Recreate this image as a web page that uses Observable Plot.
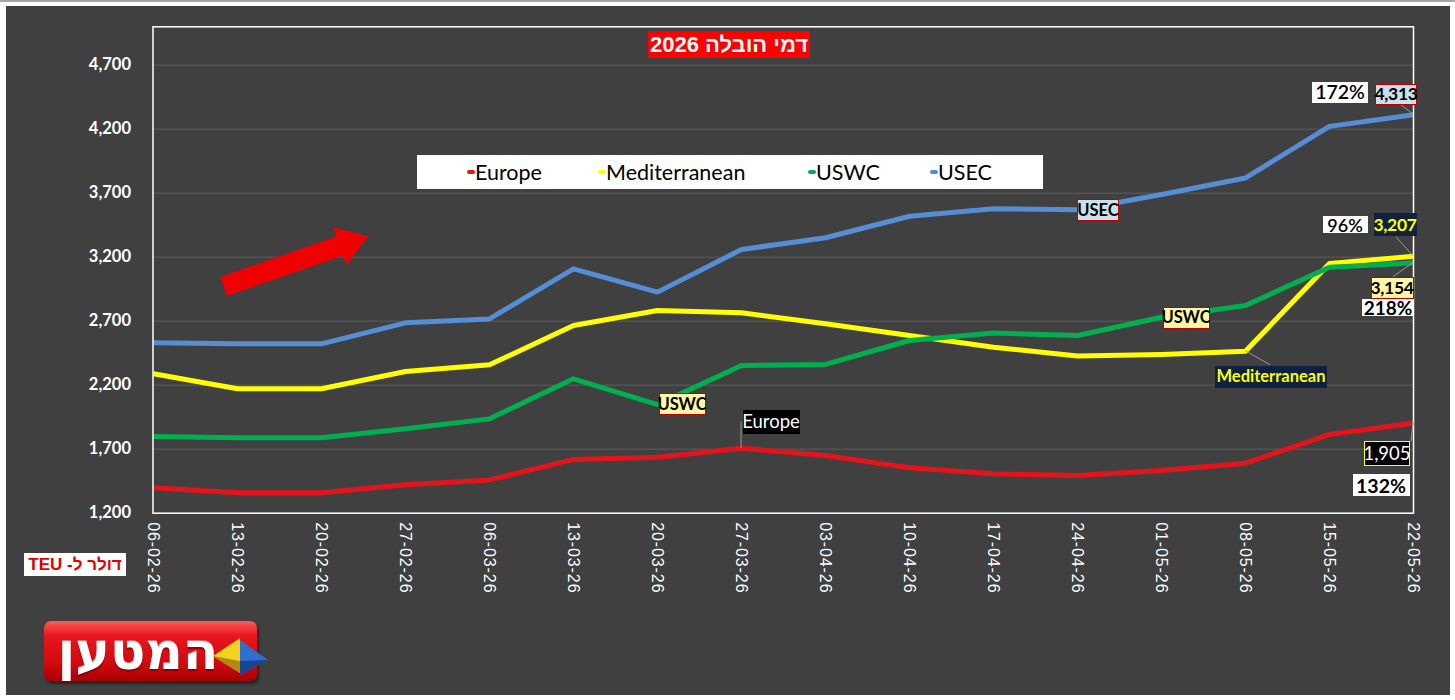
<!DOCTYPE html>
<html>
<head>
<meta charset="utf-8">
<script src="https://cdn.jsdelivr.net/npm/d3@7"></script>
<script src="https://cdn.jsdelivr.net/npm/@observablehq/plot@0.6"></script>
<style>
  body { margin: 0; background: #fff; }
  #wrap { position: relative; width: 1455px; height: 700px; overflow: hidden; background: #fff; }
  #topline { position: absolute; left: 0; top: 0; width: 1455px; height: 2px; background: #a6a6a6; }
  #panel { position: absolute; left: 6px; top: 6px; width: 1444px; height: 689px; background: #404040; }
  #chart { position: absolute; left: 0; top: 0; }
  #chart svg { display: block; }
  g[aria-label="x-axis tick label"] text { letter-spacing: 0.9px; }
  .box { position: absolute; display: flex; align-items: center; justify-content: center; box-sizing: border-box; white-space: nowrap; font-family: Lato, sans-serif; line-height: 1; }
  #title { position: absolute; left: 648px; top: 31px; width: 162px; height: 27px; background: #ff0000; color: #fff; font: bold 22px "Liberation Sans", Arial, sans-serif; direction: rtl; display: flex; align-items: center; justify-content: center; }
  #legend { position: absolute; left: 417px; top: 155px; width: 626px; height: 34px; background: #fff; }
  .litem { position: absolute; top: 0; height: 34px; display: flex; align-items: center; font: 21.5px Lato, sans-serif; color: #000; }
  .lmark { width: 8px; height: 4px; border-radius: 2px; margin-right: 0px; }
  #unit { position: absolute; left: 24px; top: 553px; width: 102px; height: 23px; background: #fff; color: #e00000; font: bold 17px "Liberation Sans", Arial, sans-serif; direction: rtl; display: flex; align-items: center; justify-content: center; white-space: nowrap; }
  #logo { position: absolute; left: 44px; top: 621px; width: 213px; height: 60px; border-radius: 7px;
          background: linear-gradient(180deg, #ff5a5a 0%, #e8161c 25%, #d10a10 70%, #a80000 100%);
          box-shadow: 2px 3px 3px rgba(0,0,0,0.45); }
  #logotext { position: absolute; left: 4px; top: 0; width: 180px; height: 60px; display: flex; align-items: center; justify-content: center;
              color: #fff; font: bold 52px "DejaVu Sans", sans-serif; direction: rtl; letter-spacing: 0px;
              text-shadow: 0 2px 1px rgba(120,0,0,0.8), 0 -1px 0 rgba(255,255,255,0.4); }
  #logosvg { position: absolute; left: 0; top: 0; overflow: visible; }
</style>
</head>
<body>
<div id="wrap">
  <div id="topline"></div>
  <div id="panel"></div>
  <div id="chart"></div>
</div>
<script>
// ---------- data ----------
const dates = ["06-02-26","13-02-26","20-02-26","27-02-26","06-03-26","13-03-26","20-03-26","27-03-26",
               "03-04-26","10-04-26","17-04-26","24-04-26","01-05-26","08-05-26","15-05-26","22-05-26"];
const europe        = [1398,1360,1360,1422,1460,1620,1637,1708,1651,1555,1508,1495,1534,1591,1815,1905];
const mediterranean = [2289,2172,2172,2307,2359,2666,2784,2766,2680,2588,2497,2428,2440,2466,3150,3207];
const uswc          = [1799,1789,1789,1859,1937,2250,2049,2354,2362,2549,2607,2588,2731,2823,3121,3154];
const usec          = [2531,2523,2523,2687,2718,3109,2927,3260,3352,3520,3578,3570,3690,3819,4222,4313];
const seriesNames   = ["Europe","Mediterranean","USWC","USEC"];
const endPercents   = ["132%","96%","218%","172%"];
const yTicks        = [1200,1700,2200,2700,3200,3700,4200,4700];
const titleText     = "דמי הובלה 2026";
const unitText      = "דולר ל- TEU";
const logoText      = "המטען";

// ---------- styling ----------
const seriesColors = ["#e3141b","#ffff00","#00b050","#558ed5"];
const seriesValues = [europe, mediterranean, uswc, usec];

const rows = seriesNames.flatMap((s, k) => dates.map((d, i) => ({series: s, date: d, value: seriesValues[k][i]})));

const W = 1455, H = 700;
const plot = Plot.plot({
  width: W, height: H,
  marginLeft: 152.5, marginRight: 42, marginTop: 26.3, marginBottom: 187.3,
  style: {background: "transparent", color: "white", fontFamily: "'Liberation Sans', Arial, sans-serif", overflow: "visible"},
  x: {type: "point", domain: dates, padding: 0},
  y: {domain: [1200, 5000]},
  color: {domain: seriesNames, range: seriesColors},
  marks: [
    Plot.gridY(yTicks, {stroke: "#5e5e5e", strokeOpacity: 1, strokeWidth: 1}),
    Plot.axisY(yTicks, {tickSize: 0, tickPadding: 22, tickFormat: d3.format(","), fontSize: 16.5, fontWeight: "bold", fontFamily: "Lato, sans-serif", fill: "white", label: null}),
    Plot.axisX({tickSize: 0, tickPadding: 9, tickRotate: 90, fontSize: 16, fill: "white", label: null}),
    Plot.lineY(rows, {x: "date", y: "value", z: "series", stroke: "series", strokeWidth: 5, strokeLinejoin: "round", strokeLinecap: "butt"}),
    Plot.frame({stroke: "white", strokeWidth: 1.5})
  ]
});
document.getElementById("chart").appendChild(plot);

const sx = plot.scale("x"), sy = plot.scale("y");
const px = i => sx.apply(dates[i]);
const py = v => sy.apply(v);
const wrap = document.getElementById("wrap");
const svg = d3.select(plot);

// ---------- red trend arrow (fractional date index, value) ----------
const arrowFrom = {i: 0.84, v: 2968};
const arrowTo   = {i: 2.56, v: 3360};
{
  const step = px(1) - px(0);
  const x0 = px(0) + arrowFrom.i * step, y0 = py(arrowFrom.v);
  const x1 = px(0) + arrowTo.i * step,   y1 = py(arrowTo.v);
  const L = Math.hypot(x1 - x0, y1 - y0);
  const ux = (x1 - x0) / L, uy = (y1 - y0) / L;
  const nx = -uy, ny = ux;
  const sw = 10, hw = 20, hl = 30;
  const bx = x1 - ux * hl, by = y1 - uy * hl;
  const pts = [
    [x0 + nx*sw, y0 + ny*sw], [bx + nx*sw, by + ny*sw], [bx + nx*hw, by + ny*hw], [x1, y1],
    [bx - nx*hw, by - ny*hw], [bx - nx*sw, by - ny*sw], [x0 - nx*sw, y0 - ny*sw]
  ];
  svg.append("polygon").attr("points", pts.map(p => p.join(",")).join(" ")).attr("fill", "#f00000");
}

// ---------- leader lines ----------
function leader(x1, y1, x2, y2) {
  svg.append("line").attr("x1", x1).attr("y1", y1).attr("x2", x2).attr("y2", y2)
     .attr("stroke", "#9a9a9a").attr("stroke-width", 1);
}
const last = dates.length - 1;
leader(px(last), py(usec[last]), px(last) - 14, py(usec[last]) - 11);
leader(px(last), py(mediterranean[last]), px(last) - 17, py(mediterranean[last]) - 19);
leader(px(last), py(uswc[last]), px(last) - 20, py(uswc[last]) + 14);
leader(px(last), py(europe[last]), px(last) - 2, py(europe[last]) + 19);
leader(px(13), py(mediterranean[13]), px(13) + 25, py(mediterranean[13]) + 14);
leader(px(7), py(europe[7]), px(7), py(europe[7]) - 26);

// ---------- callout boxes ----------
function box(text, cx, cy, w, h, style) {
  const d = document.createElement("div");
  d.className = "box";
  d.textContent = text;
  Object.assign(d.style, {left: (cx - w/2) + "px", top: (cy - h/2) + "px", width: w + "px", height: h + "px"}, style);
  wrap.appendChild(d);
}
const stBlue   = {background: "#c9e1ec", border: "1.5px solid #c00000", color: "#000", fontWeight: "bold", fontSize: "16.5px"};
const stYellow = {background: "#fff7a1", border: "1.5px solid #c00000", color: "#000", fontWeight: "bold", fontSize: "16.5px"};
const stNavy   = {background: "#0f2141", color: "#ffff00", fontWeight: "bold", fontSize: "16.5px"};
const stWhite  = {background: "#fff", color: "#000", fontWeight: "bold", fontSize: "18px"};
const stBlack  = {background: "#000", color: "#fff", fontWeight: "normal", fontSize: "18.5px"};
const fmt = d3.format(",");

// inline series name labels
box(seriesNames[3], px(11) + 21, py(usec[11]) + 1, 42, 22, stBlue);
box(seriesNames[2], px(12) + 25, py(uswc[12]) + 1, 47, 22, stYellow);
box(seriesNames[2], px(6) + 25, py(uswc[6]), 47, 22, stYellow);
box(seriesNames[0], px(7) + 30, py(europe[7]) - 26, 57, 24, stBlack);
box(seriesNames[1], px(13) + 26, py(mediterranean[13]) + 26, 112, 22, stNavy);

// end values
box(fmt(usec[last]), px(last) - 17, py(usec[last]) - 20, 42, 21, {...stBlue, fontSize: "17.5px", letterSpacing: "-0.3px"});
box(endPercents[3], px(last) - 73, py(usec[last]) - 22, 56, 21, {...stWhite, fontWeight: "600", fontSize: "19.5px"});
box(fmt(mediterranean[last]), px(last) - 18, py(mediterranean[last]) - 31, 43, 23, {...stNavy, fontSize: "17.5px", letterSpacing: "-0.3px"});
box(endPercents[1], px(last) - 68, py(mediterranean[last]) - 31, 45, 17, {...stWhite, fontWeight: "600", fontSize: "18px"});
box(fmt(uswc[last]), px(last) - 21, py(uswc[last]) + 25, 43, 22, {...stYellow, fontSize: "17.5px", letterSpacing: "-0.3px"});
box(endPercents[2], px(last) - 25, py(uswc[last]) + 45, 52, 17, {...stWhite, fontSize: "19px"});
box(fmt(europe[last]), px(last) - 26, py(europe[last]) + 31, 46, 25, {...stBlack, border: "1.5px solid #ffff00"});
box(endPercents[0], px(last) - 32, py(europe[last]) + 63, 57, 22, {...stWhite, fontSize: "19.5px"});

// ---------- title, legend, unit, logo ----------
const t = document.createElement("div"); t.id = "title"; t.textContent = titleText; wrap.appendChild(t);

const lg = document.createElement("div"); lg.id = "legend"; wrap.appendChild(lg);
const legendLeft = [50, 181, 391, 513];
seriesNames.forEach((s, k) => {
  const it = document.createElement("div"); it.className = "litem"; it.style.left = legendLeft[k] + "px";
  const m = document.createElement("span"); m.className = "lmark"; m.style.background = seriesColors[k];
  const tx = document.createElement("span"); tx.textContent = s;
  it.appendChild(m); it.appendChild(tx); lg.appendChild(it);
});

const u = document.createElement("div"); u.id = "unit"; u.textContent = unitText; wrap.appendChild(u);

const logo = document.createElement("div"); logo.id = "logo";
const lt = document.createElement("div"); lt.id = "logotext"; lt.textContent = logoText; logo.appendChild(lt);
logo.insertAdjacentHTML("beforeend",
  '<svg id="logosvg" width="230" height="60">' +
  '<polygon points="169,35 196,17 196,52" fill="#f2d21e"/>' +
  '<polygon points="169,35 196,40 196,52" fill="#b08a10"/>' +
  '<polygon points="196,19 224,39 196,54" fill="#2f6fd0"/>' +
  '<polygon points="196,40 224,39 196,54" fill="#1c4590"/>' +
  '</svg>');
wrap.appendChild(logo);
</script>
</body>
</html>
